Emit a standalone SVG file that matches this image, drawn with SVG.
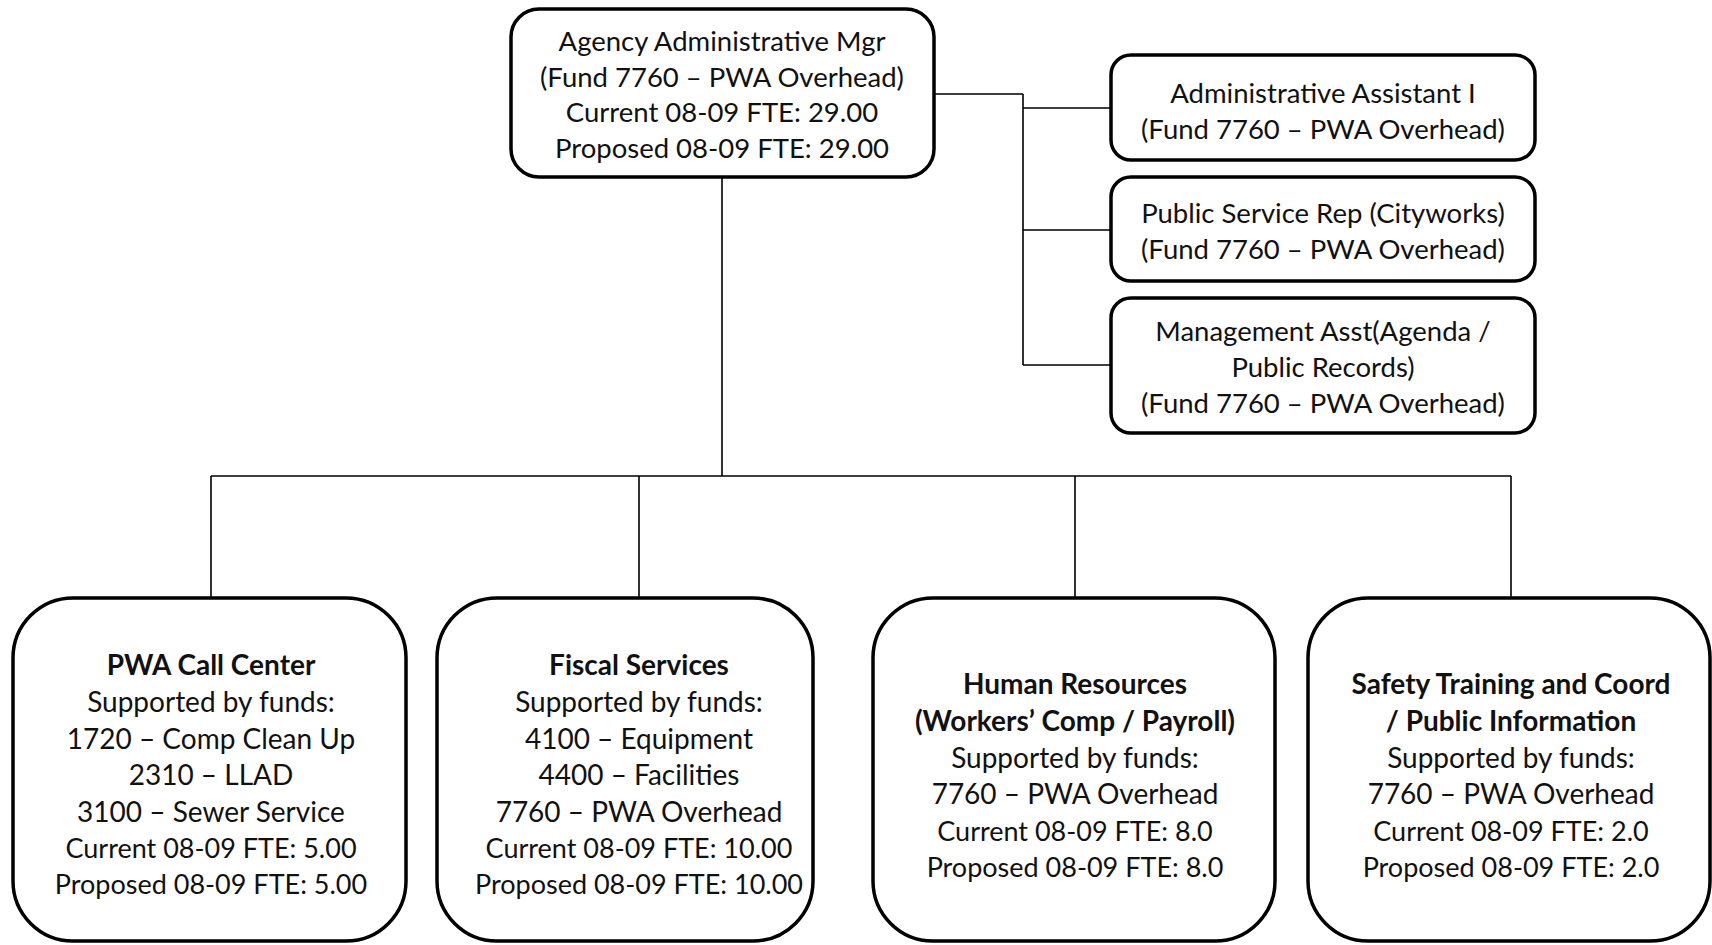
<svg xmlns="http://www.w3.org/2000/svg" width="1712" height="945" viewBox="0 0 1712 945">
<style>
.box{fill:#fff;stroke:#000;stroke-width:3.5}
.ln{fill:none;stroke:#000;stroke-width:1.6}
text{font-family:Lato,"Open Sans","Liberation Sans",sans-serif;font-size:27.5px;fill:#111;text-anchor:middle;dominant-baseline:central}
.s{font-size:28px}
.f{font-size:27px}
.b{font-weight:bold}
</style>
<rect width="1712" height="945" fill="#fff"/>
<g id="connectors">
<path class="ln" d="M934 94 H1023 M1023 94 V365 M1023 108 H1111 M1023 230 H1111 M1023 365 H1111"/>
<path class="ln" d="M722 177 V476 M211 476 H1511 M211 476 V598 M639 476 V598 M1075 476 V598 M1511 476 V598"/>
</g>
<g id="mgr">
<rect class="box" x="511" y="9" width="423" height="168" rx="28"/>
<text x="722" y="40">Agency Administrative Mgr</text>
<text x="722" y="76">(Fund 7760 – PWA Overhead)</text>
<text x="722" y="111">Current 08-09 FTE: 29.00</text>
<text x="722" y="147">Proposed 08-09 FTE: 29.00</text>
</g>
<g id="asst1">
<rect class="box" x="1111" y="55" width="424" height="105" rx="20"/>
<text x="1323" y="92">Administrative Assistant I</text>
<text x="1323" y="128">(Fund 7760 – PWA Overhead)</text>
</g>
<g id="psr">
<rect class="box" x="1111" y="177" width="424" height="104" rx="20"/>
<text x="1323" y="212">Public Service Rep (Cityworks)</text>
<text x="1323" y="248">(Fund 7760 – PWA Overhead)</text>
</g>
<g id="mgmt">
<rect class="box" x="1111" y="298" width="424" height="135" rx="20"/>
<text x="1323" y="330">Management Asst(Agenda /</text>
<text x="1323" y="366">Public Records)</text>
<text x="1323" y="402">(Fund 7760 – PWA Overhead)</text>
</g>
<g id="callcenter">
<rect class="box" x="13" y="598" width="393" height="343" rx="60"/>
<text class="b s" x="211" y="664">PWA Call Center</text>
<text class="s" x="211" y="701">Supported by funds:</text>
<text class="s" x="211" y="738">1720 – Comp Clean Up</text>
<text class="s" x="211" y="774">2310 – LLAD</text>
<text class="s" x="211" y="811">3100 – Sewer Service</text>
<text class="f" x="211" y="847">Current 08-09 FTE: 5.00</text>
<text class="f" x="211" y="883">Proposed 08-09 FTE: 5.00</text>
</g>
<g id="fiscal">
<rect class="box" x="437" y="598" width="376" height="343" rx="60"/>
<text class="b s" x="639" y="664">Fiscal Services</text>
<text class="s" x="639" y="701">Supported by funds:</text>
<text class="s" x="639" y="738">4100 – Equipment</text>
<text class="s" x="639" y="774">4400 – Facilities</text>
<text class="s" x="639" y="811">7760 – PWA Overhead</text>
<text class="f" x="639" y="847">Current 08-09 FTE: 10.00</text>
<text class="f" x="639" y="883">Proposed 08-09 FTE: 10.00</text>
</g>
<g id="hr">
<rect class="box" x="873" y="598" width="402" height="343" rx="60"/>
<text class="b s" x="1075" y="683">Human Resources</text>
<text class="b s" x="1075" y="720">(Workers’ Comp / Payroll)</text>
<text class="s" x="1075" y="757">Supported by funds:</text>
<text class="s" x="1075" y="793">7760 – PWA Overhead</text>
<text class="f" x="1075" y="830">Current 08-09 FTE: 8.0</text>
<text class="f" x="1075" y="866">Proposed 08-09 FTE: 8.0</text>
</g>
<g id="safety">
<rect class="box" x="1308" y="598" width="402" height="343" rx="60"/>
<text class="b s" x="1511" y="683">Safety Training and Coord</text>
<text class="b s" x="1511" y="720">/ Public Information</text>
<text class="s" x="1511" y="757">Supported by funds:</text>
<text class="s" x="1511" y="793">7760 – PWA Overhead</text>
<text class="f" x="1511" y="830">Current 08-09 FTE: 2.0</text>
<text class="f" x="1511" y="866">Proposed 08-09 FTE: 2.0</text>
</g>
</svg>
